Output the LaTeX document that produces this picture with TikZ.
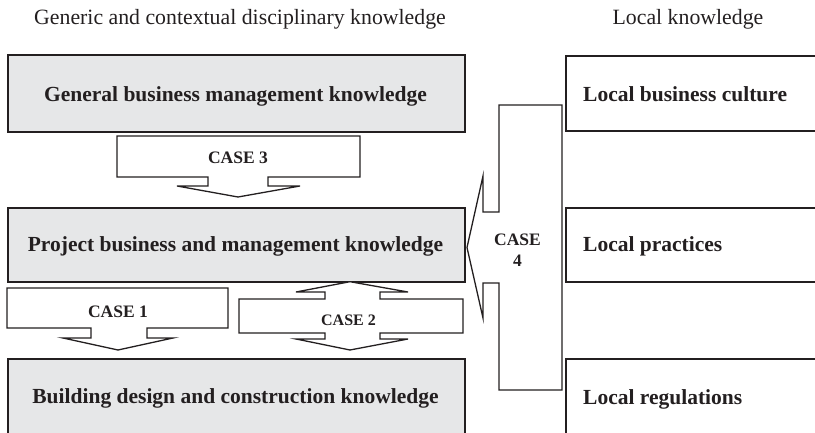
\documentclass[tikz,border=0pt]{standalone}
\usepackage{fontspec}
\setmainfont{Liberation Serif}
\definecolor{boxgray}{RGB}{230,231,232}
\definecolor{inkline}{RGB}{35,31,32}
\begin{document}
\begin{tikzpicture}[x=1pt,y=-1pt,
  kbox/.style={draw=inkline, line width=2.4pt, fill=boxgray, minimum width=457pt,
               anchor=north west, inner sep=0pt},
  lbox/.style={draw=inkline, line width=2.4pt, fill=white, minimum width=280pt,
               anchor=north west, inner sep=0pt},
  blockarrow/.style={draw=inkline, line width=1.3pt, fill=white, line join=miter},
  headtext/.style={font=\fontsize{21.8}{26}\selectfont, anchor=base, inner sep=0pt, text=inkline},
  boxtext/.style={font=\fontsize{21.5}{26}\selectfont\bfseries, anchor=base, inner sep=0pt, text=inkline},
  casetext/.style={font=\fontsize{17.5}{21}\selectfont\bfseries, anchor=base, inner sep=0pt, text=inkline},
]
\useasboundingbox (0,0) rectangle (815,433);
\clip (0,0) rectangle (815,433);

% column headings
\node[headtext] (hgen) at (240,25) {Generic and contextual disciplinary knowledge};
\node[headtext] (hloc) at (688,25) {Local knowledge};

% disciplinary knowledge layers
\node[kbox, minimum height=77pt] (gen)   at (7,54)  {};
\node[kbox, minimum height=74pt] (proj)  at (7,207) {};
\node[kbox, minimum height=90pt] (build) at (7,358) {};
\node[boxtext] (tgen)   at (235.5,102) {General business management knowledge};
\node[boxtext] (tproj)  at (235.5,252) {Project business and management knowledge};
\node[boxtext] (tbuild) at (235.5,403) {Building design and construction knowledge};

% local knowledge layers
\node[lbox, minimum height=75pt] (culture) at (565,55)  {};
\node[lbox, minimum height=74pt] (pract)   at (565,207) {};
\node[lbox, minimum height=90pt] (regs)    at (565,358) {};
\node[boxtext, anchor=base west] (tculture) at (583,102) {Local business culture};
\node[boxtext, anchor=base west] (tpract)   at (583,252) {Local practices};
\node[boxtext, anchor=base west] (tregs)    at (583,404) {Local regulations};

% CASE 3: general -> project
\draw[blockarrow] (117,136) -- (360,136) -- (360,177) -- (268,177) -- (268,186)
  -- (300,186) -- (238,197) -- (177,186) -- (208,186) -- (208,177) -- (117,177) -- cycle;
\node[casetext] (c3) at (238,164) {CASE 3};

% CASE 1: project -> building
\draw[blockarrow] (7,288) -- (228,288) -- (228,328) -- (147,328) -- (147,338)
  -- (173,338) -- (118,350) -- (63,338) -- (91,338) -- (91,328) -- (7,328) -- cycle;
\node[casetext] (c1) at (118,317) {CASE 1};

% CASE 2: project <-> building
\draw[blockarrow] (239,299) -- (325,299) -- (325,292) -- (296,292) -- (350,281.7)
  -- (408,292) -- (380,292) -- (380,299) -- (463,299) -- (463,333) -- (380,333)
  -- (380,339) -- (408,339) -- (350,350) -- (296,339) -- (325,339) -- (325,333)
  -- (239,333) -- cycle;
\node[casetext, font=\fontsize{16}{20}\selectfont\bfseries] (c2) at (348.5,325) {CASE 2};

% CASE 4: local knowledge -> project
\draw[blockarrow] (562,105) -- (562,390) -- (499,390) -- (499,283) -- (483,283)
  -- (483,318) -- (467,247.5) -- (483,176) -- (483,212) -- (499,212) -- (499,105) -- cycle;
\node[casetext] (c4a) at (517.5,246) {CASE};
\node[casetext] (c4b) at (517.5,267) {4};
\end{tikzpicture}
\end{document}
